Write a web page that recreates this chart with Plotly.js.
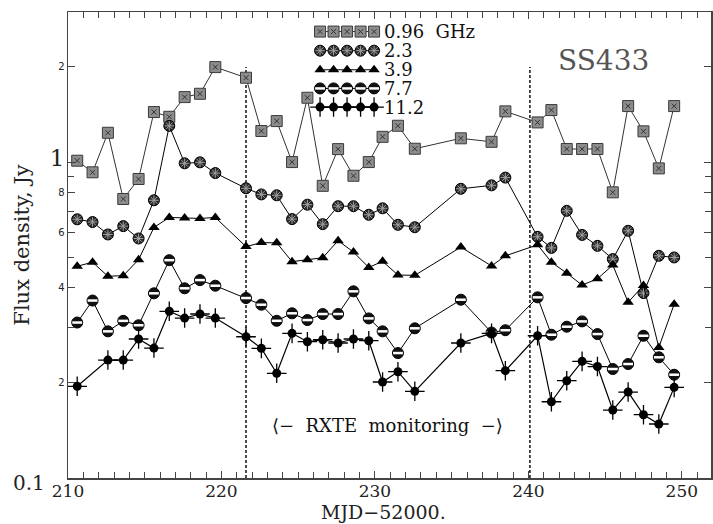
<!DOCTYPE html>
<html><head><meta charset="utf-8">
<script src="https://cdn.plot.ly/plotly-3.0.1.min.js"></script>
<style>html,body{margin:0;padding:0;background:#fff}#chart{width:713px;height:524px}</style>
</head><body><div id="chart"></div>
<script>
// ---- data (MJD-52000, flux density in Jy) ----
const days = [210.6,211.6,212.6,213.6,214.6,215.6,216.6,217.6,218.6,219.6,
              221.6,222.6,223.6,224.6,225.6,226.6,227.6,228.6,229.6,230.5,
              231.5,232.6,235.6,237.6,238.5,240.6,241.5,242.5,243.5,244.5,
              245.5,246.5,247.5,248.5,249.5];
const flux096 = [1.01,0.928,1.238,0.764,0.884,1.44,1.391,1.606,1.645,1.998,
                 1.849,1.254,1.348,1.0,1.598,0.841,1.099,0.905,1.0,1.202,
                 1.303,1.102,1.189,1.159,1.447,1.335,1.461,1.10,1.10,1.10,
                 0.802,1.504,1.251,0.955,1.504];
const flux23  = [0.659,0.646,0.590,0.627,0.573,0.757,1.302,0.991,0.998,0.923,
                 0.826,0.790,0.785,0.660,0.733,0.636,0.725,0.725,0.681,0.714,
                 0.633,0.622,0.823,0.844,0.893,0.580,0.535,0.701,0.588,0.543,
                 0.493,0.606,0.385,0.505,0.499];
const flux39  = [0.468,0.482,0.435,0.437,0.491,0.621,0.668,0.665,0.663,0.668,
                 0.540,0.556,0.555,0.484,0.491,0.498,0.564,0.519,0.464,0.485,
                 0.439,0.438,0.538,0.469,0.505,0.547,0.482,0.445,0.408,0.427,
                 0.472,0.360,0.407,0.259,0.355];
const flux77  = [0.3105,0.3645,0.2912,0.3143,0.3044,0.3842,0.4891,0.3985,0.4231,0.4061,
                 0.3712,0.3536,0.3145,0.3321,0.3162,0.3304,0.3304,0.3898,0.3200,0.2912,
                 0.2486,0.2977,0.3667,0.2887,0.2936,0.3731,0.2841,0.3012,0.3131,0.2855,
                 0.2213,0.2295,0.2820,0.2410,0.2123];
const flux112 = [0.1951,null,0.2362,0.2362,0.2754,0.2578,0.3370,0.3208,0.3304,0.3208,
                 0.2800,0.2573,0.2145,0.2870,0.2700,0.2740,0.2675,0.2754,0.2720,0.2013,
                 0.2170,0.1881,0.2675,0.2870,0.2186,0.2820,0.1743,0.2032,0.2340,0.2253,
                 0.1641,0.1871,0.1586,0.1482,0.1936];
const seriesNames = ['0.96\u00a0\u00a0GHz','2.3','3.9','7.7','11.2'];
const seriesData = [flux096, flux23, flux39, flux77, flux112];
const xTickVals = [210,220,230,240,250];
const yTickVals = [0.2,0.4,0.6,0.8,1,2];
const yTickText = ['2','4','6','8','<span style="font-size:23px;font-family:DejaVu Serif">1</span>','2'];
const yMinorVals = [0.3,0.5,0.7,0.9];
const rxteStart = 221.6, rxteEnd = 240.1, rxteTop = 2.0, fluxBottom = 0.1;

// ---- styles ----
const serif = 'DejaVu Serif';
const styles = [
  {line:{color:'#333',width:1},
   main:{symbol:'square',size:11,color:'#8c8c8c',line:{color:'#3a3a3a',width:1}},
   over:{symbol:'x-thin-open',size:5,color:'#333',line:{color:'#333',width:1}}},
  {line:{color:'#000',width:1},
   main:{symbol:'circle',size:11,color:'#2a2a2a',line:{color:'#000',width:1}},
   over:{symbol:'asterisk-open',size:8,color:'#a0a0a0',line:{color:'#a0a0a0',width:1}}},
  {line:{color:'#000',width:1},
   main:{symbol:'triangle-up',size:10,color:'#000',line:{width:0}},
   over:null},
  {line:{color:'#000',width:1},
   main:{symbol:'circle',size:11,color:'#111',line:{color:'#000',width:1}},
   over:{symbol:'line-ew-open',size:7,color:'#fff',line:{color:'#fff',width:2.5}}},
  {line:{color:'#000',width:1.2},
   main:{symbol:'circle',size:9,color:'#000',line:{width:0}},
   over:{symbol:'cross-thin-open',size:14,color:'#000',line:{color:'#000',width:1.3}}}
];

const traces = [];
// RXTE monitoring window, dashed
[rxteStart, rxteEnd].forEach(xv => traces.push({
  x:[xv,xv], y:[fluxBottom, rxteTop], mode:'lines', showlegend:false, hoverinfo:'skip',
  line:{color:'#000', width:1.4, dash:'3px,2px'}
}));
// series
seriesData.forEach((ys, i) => {
  const st = styles[i];
  traces.push({x:days, y:ys, mode:'lines+markers', connectgaps:true, showlegend:false,
    name:seriesNames[i], line:st.line, marker:st.main});
  if (st.over) traces.push({x:days, y:ys, mode:'markers', showlegend:false, hoverinfo:'skip',
    marker:st.over});
});

// custom legend (5 markers per row) on an overlay unit axis
const legX0 = 0.392, legX1 = 0.476, legRows = [0.958,0.917,0.876,0.836,0.796], legTextX = 0.488;
const legXs = [0,1,2,3,4].map(k => legX0 + (legX1-legX0)*k/4);
const annotations = [];
seriesNames.forEach((nm, i) => {
  const st = styles[i];
  const ly = legXs.map(() => legRows[i]);
  traces.push({x:legXs, y:ly, xaxis:'x2', yaxis:'y2', mode:'lines+markers', showlegend:false,
    hoverinfo:'skip', line:st.line, marker:st.main});
  if (st.over) traces.push({x:legXs, y:ly, xaxis:'x2', yaxis:'y2', mode:'markers', showlegend:false,
    hoverinfo:'skip', marker:st.over});
  annotations.push({xref:'paper', yref:'paper', x:legTextX, y:legRows[i], xanchor:'left', yanchor:'middle',
    text:nm, showarrow:false, font:{family:serif, size:18, color:'#111'}});
});
annotations.push({xref:'paper', yref:'paper', x:0.907, y:0.936, text:'SS433', showarrow:false,
  font:{family:serif, size:28, color:'#555'}});
annotations.push({xref:'x', yref:'paper', x:(rxteStart+rxteEnd)/2, y:0.086, showarrow:false,
  text:'\u27E8\u2212\u00a0\u00a0RXTE\u00a0\u00a0monitoring\u00a0\u00a0\u2212\u27E9',
  font:{family:serif, size:18, color:'#111'}});
annotations.push({xref:'paper', yref:'paper', x:0, y:0, xanchor:'right', yanchor:'middle', xshift:-21, yshift:-5,
  text:'0.1', showarrow:false, font:{family:serif, size:20, color:'#222'}});
// x-axis title, placed just below the tick labels
annotations.push({xref:'paper', yref:'paper', x:0.49, y:0, xanchor:'center', yanchor:'top', yshift:-22,
  borderpad:0, text:'MJD\u221252000.', showarrow:false, font:{family:serif, size:19, color:'#222'}});

const axisCommon = {showline:true, linecolor:'#444', linewidth:1.5, mirror:'ticks', ticks:'inside',
  tickcolor:'#444', tickwidth:1, showgrid:false, zeroline:false};

const layout = {
  width:713, height:524, margin:{l:68, r:2, t:12, b:46},
  paper_bgcolor:'#fff', plot_bgcolor:'#fff', showlegend:false,
  xaxis: Object.assign({}, axisCommon, {
    range:[210, 251.9], tickmode:'array', tickvals:xTickVals, ticklen:7, ticklabelstandoff:-3,
    tickfont:{family:serif, size:17, color:'#222'},
    minor:{dtick:1, tick0:210, ticks:'inside', ticklen:6, tickcolor:'#444'}
  }),
  yaxis: Object.assign({}, axisCommon, {
    type:'log', range:[-1, 0.475], tickmode:'array', tickvals:yTickVals, ticktext:yTickText, ticklen:7,
    tickfont:{family:'DejaVu Sans', size:10, color:'#222'},
    minor:{tickmode:'array', tickvals:yMinorVals, ticks:'inside', ticklen:6, tickcolor:'#444'},
    title:{text:'Flux density, Jy', font:{family:serif, size:21, color:'#222'}, standoff:14}
  }),
  xaxis2:{overlaying:'x', range:[0,1], visible:false, fixedrange:true},
  yaxis2:{overlaying:'y', range:[0,1], visible:false, fixedrange:true},
  annotations: annotations
};

Plotly.newPlot('chart', traces, layout, {staticPlot:true, displayModeBar:false});
</script>
</body></html>
